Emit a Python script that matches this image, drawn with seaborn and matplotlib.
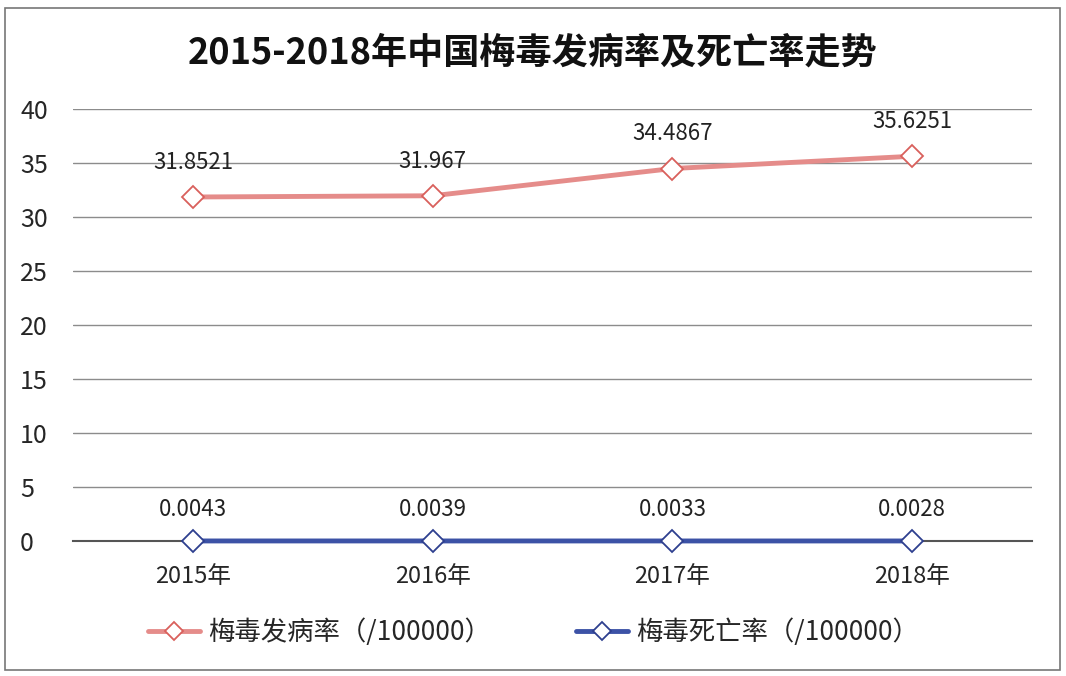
import pandas as pd
import matplotlib.pyplot as plt
import matplotlib.patches as mpatches
import seaborn as sns

# --- dados ---
years = ['2015年', '2016年', '2017年', '2018年']
incidence = [31.8521, 31.967, 34.4867, 35.6251]
mortality = [0.0043, 0.0039, 0.0033, 0.0028]
label_inc = '梅毒发病率（/100000）'
label_mort = '梅毒死亡率（/100000）'
inc_labels = ['31.8521', '31.967', '34.4867', '35.6251']
mort_labels = ['0.0043', '0.0039', '0.0033', '0.0028']

sns.set_style('white')
plt.rcParams['font.family'] = ['Noto Sans CJK SC', 'DejaVu Sans']

df = pd.DataFrame({'year': years, 'inc': incidence, 'mort': mortality})
x = list(range(len(years)))

fig = plt.figure(figsize=(10.66, 6.76), dpi=100)
ax = fig.add_axes([73 / 1066, 1 - 541 / 676, 959 / 1066, 432 / 676])

sns.lineplot(x=x, y=df['inc'], ax=ax, color='#E58C8A', lw=3.5,
             marker='D', markersize=11, markerfacecolor='white',
             markeredgecolor='#D9605C', markeredgewidth=1.3, label=label_inc,
             zorder=4, clip_on=False)
sns.lineplot(x=x, y=df['mort'], ax=ax, color='#3C52A6', lw=3.5,
             marker='D', markersize=11, markerfacecolor='white',
             markeredgecolor='#2E3F8F', markeredgewidth=1.3, label=label_mort,
             zorder=4, clip_on=False)

for i, (v, t) in enumerate(zip(incidence, inc_labels)):
    ax.annotate(t, (i, v), textcoords='offset points', xytext=(0, 25),
                ha='center', va='center', fontsize=16, color='#222222')
for i, (v, t) in enumerate(zip(mortality, mort_labels)):
    ax.annotate(t, (i, v), textcoords='offset points', xytext=(0, 23),
                ha='center', va='center', fontsize=16, color='#222222')

ax.set_xlim(-0.5, 3.5)
ax.set_ylim(0, 40)
ax.set_yticks(range(0, 41, 5))
ax.set_xticks(x)
ax.set_xticklabels(years, fontsize=17)
ax.set_xticks([0.5, 1.5, 2.5], minor=True)
ax.tick_params(axis='x', which='major', length=0, pad=17)
ax.tick_params(axis='x', which='minor', length=5, width=1, color='#555555', direction='out')
ax.tick_params(axis='y', length=0, labelsize=18, pad=38)
for lab in ax.get_yticklabels():
    lab.set_horizontalalignment('left')
ax.yaxis.grid(True, color='#8c8c8c', lw=1)
ax.set_axisbelow(True)
ax.spines[['top', 'right', 'left']].set_visible(False)
ax.spines['bottom'].set_color('#555555')
ax.spines['bottom'].set_linewidth(1.5)
ax.set_xlabel('')
ax.set_ylabel('')

ax.legend(loc='upper center', bbox_to_anchor=(0.48, -0.125), ncol=2, frameon=False,
          fontsize=19, handlelength=2.0, columnspacing=3.2, handletextpad=0.3,
          markerscale=0.8)

fig.text(0.5, 1 - 53 / 676, '2015-2018年中国梅毒发病率及死亡率走势', ha='center', va='center',
         fontsize=26, fontweight='bold', color='#111111')

fig.patches.append(mpatches.Rectangle((5 / 1066, 6 / 676), 1055 / 1066, 662 / 676,
                                      transform=fig.transFigure, fill=False,
                                      edgecolor='#777777', lw=1.2))

plt.savefig('out.png', dpi=100)
